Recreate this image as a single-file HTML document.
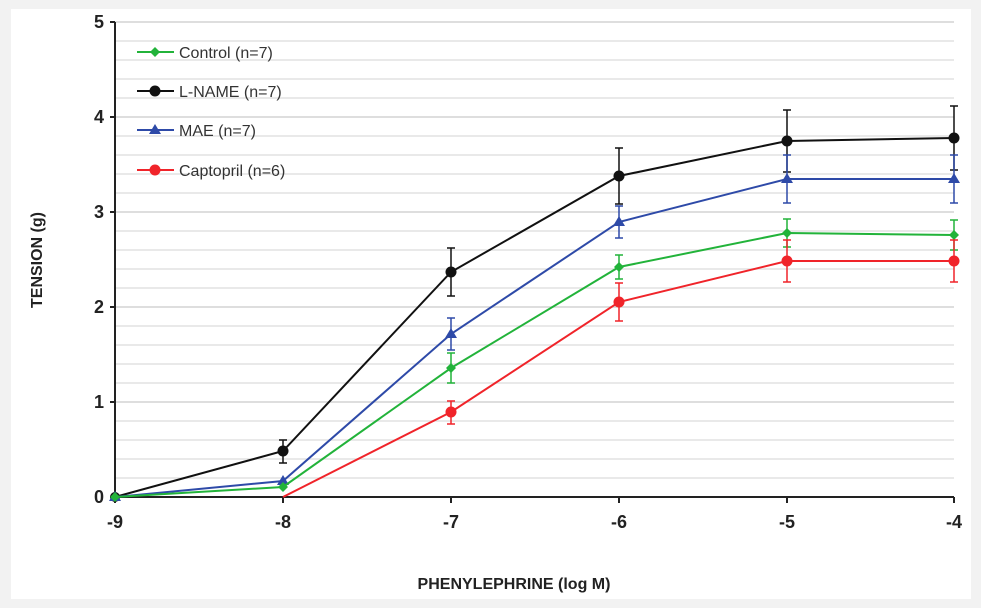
<!DOCTYPE html>
<html><head><meta charset="utf-8"><style>
body{margin:0;background:#f2f2f2;}
svg{display:block;font-family:"Liberation Sans",sans-serif;}
</style></head><body>
<svg width="981" height="608" viewBox="0 0 981 608">
<rect x="11" y="9" width="960" height="590" fill="#fff"/>
<g stroke="#e2e2e2" stroke-width="1.5">
<line x1="115" x2="954" y1="478" y2="478"/><line x1="115" x2="954" y1="459" y2="459"/><line x1="115" x2="954" y1="440" y2="440"/><line x1="115" x2="954" y1="421" y2="421"/><line x1="115" x2="954" y1="402" y2="402" stroke="#d4d4d4"/>
<line x1="115" x2="954" y1="383" y2="383"/><line x1="115" x2="954" y1="364" y2="364"/><line x1="115" x2="954" y1="345" y2="345"/><line x1="115" x2="954" y1="326" y2="326"/><line x1="115" x2="954" y1="307" y2="307" stroke="#d4d4d4"/>
<line x1="115" x2="954" y1="288" y2="288"/><line x1="115" x2="954" y1="269" y2="269"/><line x1="115" x2="954" y1="250" y2="250"/><line x1="115" x2="954" y1="231" y2="231"/><line x1="115" x2="954" y1="212" y2="212" stroke="#d4d4d4"/>
<line x1="115" x2="954" y1="193" y2="193"/><line x1="115" x2="954" y1="174" y2="174"/><line x1="115" x2="954" y1="155" y2="155"/><line x1="115" x2="954" y1="136" y2="136"/><line x1="115" x2="954" y1="117" y2="117" stroke="#d4d4d4"/>
<line x1="115" x2="954" y1="98" y2="98"/><line x1="115" x2="954" y1="79" y2="79"/><line x1="115" x2="954" y1="60" y2="60"/><line x1="115" x2="954" y1="41" y2="41"/><line x1="115" x2="954" y1="22" y2="22" stroke="#d4d4d4"/>
</g>
<g stroke="#222" stroke-width="2">
<line x1="115" y1="22" x2="115" y2="497"/><line x1="115" y1="497" x2="954" y2="497"/>
<line x1="110" x2="115" y1="497" y2="497"/><line x1="110" x2="115" y1="402" y2="402"/><line x1="110" x2="115" y1="307" y2="307"/><line x1="110" x2="115" y1="212" y2="212"/><line x1="110" x2="115" y1="117" y2="117"/><line x1="110" x2="115" y1="22" y2="22"/>
<line x1="115" x2="115" y1="497" y2="503"/><line x1="283" x2="283" y1="497" y2="503"/><line x1="451" x2="451" y1="497" y2="503"/><line x1="619" x2="619" y1="497" y2="503"/><line x1="787" x2="787" y1="497" y2="503"/><line x1="954" x2="954" y1="497" y2="503"/>
</g>
<g font-size="18" font-weight="bold" fill="#222" text-anchor="end">
<text x="104" y="503">0</text><text x="104" y="408">1</text><text x="104" y="313">2</text><text x="104" y="218">3</text><text x="104" y="123">4</text><text x="104" y="28">5</text>
</g>
<g font-size="18" font-weight="bold" fill="#222" text-anchor="middle">
<text x="115" y="528">-9</text><text x="283" y="528">-8</text><text x="451" y="528">-7</text><text x="619" y="528">-6</text><text x="787" y="528">-5</text><text x="954" y="528">-4</text>
</g>
<text x="514" y="589" font-size="16" font-weight="bold" fill="#222" text-anchor="middle">PHENYLEPHRINE (log M)</text>
<text transform="translate(42,260) rotate(-90)" font-size="16" font-weight="bold" fill="#222" text-anchor="middle">TENSION (g)</text>

<g stroke="#111" stroke-width="1.5" fill="none">
<polyline stroke-width="2" points="115,497 283,451 451,272 619,176 787,141 954,138"/>
<path d="M283,440V463M279,440h8M279,463h8 M451,248V296M447,248h8M447,296h8 M619,148V204M615,148h8M615,204h8 M787,110V172M783,110h8M783,172h8 M954,106V170M950,106h8M950,170h8"/>
</g>
<g fill="#111"><circle cx="115" cy="497" r="5"/><circle cx="283" cy="451" r="5.5"/><circle cx="451" cy="272" r="5.5"/><circle cx="619" cy="176" r="5.5"/><circle cx="787" cy="141" r="5.5"/><circle cx="954" cy="138" r="5.5"/></g>
<g stroke="#2e4aa8" stroke-width="1.5" fill="none">
<polyline stroke-width="2" points="115,497 283,481 451,334 619,222 787,179 954,179"/>
<path d="M451,318V350M447,318h8M447,350h8 M619,206V238M615,206h8M615,238h8 M787,155V203M783,155h8M783,203h8 M954,155V203M950,155h8M950,203h8"/>
</g>
<g fill="#2e4aa8"><path d="M115,491l6,10h-12z"/><path d="M283,475l6,10h-12z"/><path d="M451,328l6,10h-12z"/><path d="M619,216l6,10h-12z"/><path d="M787,173l6,10h-12z"/><path d="M954,173l6,10h-12z"/></g>
<g stroke="#22b33a" stroke-width="1.5" fill="none">
<polyline stroke-width="2" points="115,497 283,487 451,368 619,267 787,233 954,235"/>
<path d="M451,353V383M447,353h8M447,383h8 M619,255V279M615,255h8M615,279h8 M787,219V247M783,219h8M783,247h8 M954,220V250M950,220h8M950,250h8"/>
</g>
<g fill="#22b33a"><path d="M115,492l5,5-5,5-5-5z"/><path d="M283,482l5,5-5,5-5-5z"/><path d="M451,363l5,5-5,5-5-5z"/><path d="M619,262l5,5-5,5-5-5z"/><path d="M787,228l5,5-5,5-5-5z"/><path d="M954,230l5,5-5,5-5-5z"/></g>
<g stroke="#f0242a" stroke-width="1.5" fill="none">
<polyline stroke-width="2" points="283,497 451,412 619,302 787,261 954,261"/>
<path d="M451,401V424M447,401h8M447,424h8 M619,283V321M615,283h8M615,321h8 M787,240V282M783,240h8M783,282h8 M954,240V282M950,240h8M950,282h8"/>
</g>
<g fill="#f0242a"><circle cx="451" cy="412" r="5.5"/><circle cx="619" cy="302" r="5.5"/><circle cx="787" cy="261" r="5.5"/><circle cx="954" cy="261" r="5.5"/></g>

<g font-size="16" fill="#333">
<line x1="137" x2="174" y1="52" y2="52" stroke="#22b33a" stroke-width="2"/><path d="M155,47l5,5-5,5-5-5z" fill="#22b33a"/><text x="179" y="58">Control (n=7)</text>
<line x1="137" x2="174" y1="91" y2="91" stroke="#111" stroke-width="2"/><circle cx="155" cy="91" r="5.5" fill="#111"/><text x="179" y="97">L-NAME  (n=7)</text>
<line x1="137" x2="174" y1="130" y2="130" stroke="#2e4aa8" stroke-width="2"/><path d="M155,124l6,10h-12z" fill="#2e4aa8"/><text x="179" y="136">MAE (n=7)</text>
<line x1="137" x2="174" y1="170" y2="170" stroke="#f0242a" stroke-width="2"/><circle cx="155" cy="170" r="5.5" fill="#f0242a"/><text x="179" y="176">Captopril (n=6)</text>
</g>
</svg>
</body></html>
